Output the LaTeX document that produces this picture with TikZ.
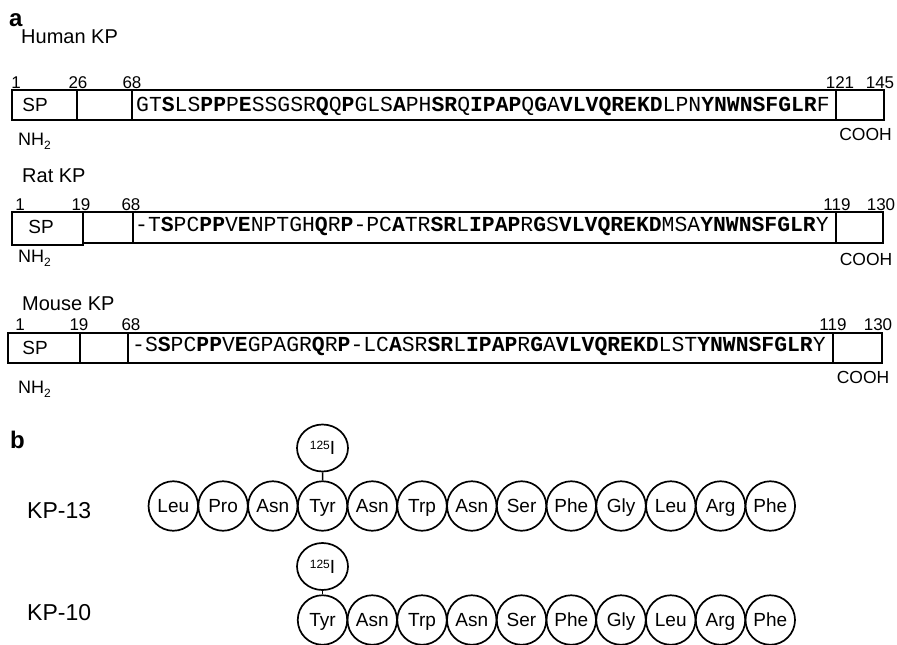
\documentclass[tikz,border=0pt]{standalone}
\usepackage{fontspec}
\setmainfont{Liberation Sans}
\newfontfamily\seqfont{Liberation Mono}
\usetikzlibrary{shapes.geometric}
\newcommand\sqb[1]{\textbf{#1}}
\newcommand\subtwo{\raisebox{-4pt}{\fontsize{12}{12}\selectfont 2}}
\tikzset{
  seg/.style={draw, line width=1.8pt, inner sep=0pt},
  lbl/.style={inner sep=0pt, anchor=base west, font=\fontsize{20}{23}\selectfont},
  num/.style={inner sep=0pt, anchor=base, font=\fontsize{17}{19}\selectfont},
  term/.style={inner sep=0pt, anchor=base, font=\fontsize{17.5}{20}\selectfont},
  termw/.style={inner sep=0pt, anchor=base west, font=\fontsize{18}{20}\selectfont},
  sptxt/.style={inner sep=0pt, anchor=base, font=\fontsize{19}{21}\selectfont},
  seqtxt/.style={inner sep=0pt, anchor=base west, font=\seqfont\fontsize{21.4}{24}\selectfont},
  panel/.style={inner sep=0pt, anchor=base west, font=\bfseries\fontsize{24}{28}\selectfont},
  kplbl/.style={inner sep=0pt, anchor=base west, font=\fontsize{23}{26}\selectfont},
  aa/.style={circle, draw, line width=1.7pt, minimum size=49.5pt, inner sep=0pt,
    text height=13.5pt, text depth=0pt, font=\fontsize{19}{21}\selectfont},
  iod/.style={ellipse, draw, line width=1.7pt, minimum width=51pt, minimum height=47pt,
    inner sep=0pt, font=\fontsize{19}{21}\selectfont},
  conn/.style={line width=1.5pt}
}
\begin{document}
\begin{tikzpicture}[x=1pt,y=-1pt]
\useasboundingbox (0,0) rectangle (897,645);
% ---------- panel a
\node[panel] (pa) at (9,27) {a};
% Human
\node[lbl] (hname) at (21,43.5) {Human KP};
\node[num] (hn1) at (16,88) {1};
\node[num] (hn26) at (78,88) {26};
\node[num] (hn68) at (132,88) {68};
\node[num] (hn121) at (840,88) {121};
\node[num] (hn145) at (880,88) {145};
\node[seg, minimum width=65pt, minimum height=30pt] (hsp) at (44.5,105) {};
\node[seg, minimum width=55pt, minimum height=30pt] (hpro) at (104.5,105) {};
\node[seg, minimum width=704pt, minimum height=30pt] (hseq) at (484,105) {};
\node[seg, minimum width=48pt, minimum height=30pt] (hc) at (860,105) {};
\node[sptxt] (hsptxt) at (35,111) {SP};
\node[seqtxt] (hseqtxt) at (136,111.7) {GT\sqb{S}LS\sqb{PP}P\sqb{E}SSGSR\sqb{Q}Q\sqb{P}GLS\sqb{A}PH\sqb{SR}Q\sqb{IPAP}Q\sqb{G}A\sqb{VLVQREKD}LPN\sqb{YNWNSFGLR}F};
\node[termw] (hnh) at (18,145) {NH\subtwo};
\node[term] (hcooh) at (865.5,140) {COOH};
% Rat
\node[lbl] (rname) at (22,182) {Rat KP};
\node[num] (rn1) at (20,210) {1};
\node[num] (rn19) at (81,210) {19};
\node[num] (rn68) at (131,210) {68};
\node[num] (rn119) at (837,210) {119};
\node[num] (rn130) at (881,210) {130};
\node[seg, minimum width=71pt, minimum height=33pt] (rsp) at (47.5,228.5) {};
\node[seg, minimum width=50pt, minimum height=31pt] (rpro) at (108,227.5) {};
\node[seg, minimum width=703pt, minimum height=31pt] (rseq) at (484.5,227.5) {};
\node[seg, minimum width=47pt, minimum height=31pt] (rc) at (859.5,227.5) {};
\node[sptxt] (rsptxt) at (41,233.5) {SP};
\node[seqtxt] (rseqtxt) at (135,231.7) {-T\sqb{S}PC\sqb{PP}V\sqb{E}NPTGH\sqb{Q}R\sqb{P}-PC\sqb{A}TR\sqb{SR}L\sqb{IPAP}R\sqb{G}S\sqb{VLVQREKD}MSA\sqb{YNWNSFGLR}Y};
\node[termw] (rnh) at (18,262) {NH\subtwo};
\node[term] (rcooh) at (866,265) {COOH};
% Mouse
\node[lbl] (mname) at (22,310) {Mouse KP};
\node[num] (mn1) at (20,330) {1};
\node[num] (mn19) at (79,330) {19};
\node[num] (mn68) at (131,330) {68};
\node[num] (mn119) at (833,330) {119};
\node[num] (mn130) at (878,330) {130};
\node[seg, minimum width=72pt, minimum height=30pt] (msp) at (44,348) {};
\node[seg, minimum width=48pt, minimum height=30pt] (mpro) at (104,348) {};
\node[seg, minimum width=705pt, minimum height=30pt] (mseq) at (480.5,348) {};
\node[seg, minimum width=49pt, minimum height=30pt] (mc) at (857.5,348) {};
\node[sptxt] (msptxt) at (35,354) {SP};
\node[seqtxt] (mseqtxt) at (132,351.7) {-S\sqb{S}PC\sqb{PP}V\sqb{E}GPAGR\sqb{Q}R\sqb{P}-LC\sqb{A}SR\sqb{SR}L\sqb{IPAP}R\sqb{G}A\sqb{VLVQREKD}LST\sqb{YNWNSFGLR}Y};
\node[termw] (mnh) at (18,393) {NH\subtwo};
\node[term] (mcooh) at (863,383) {COOH};
% ---------- panel b
\node[panel] (pb) at (10,448) {b};
\node[kplbl] (k13) at (27,518) {KP-13};
\node[kplbl] (k10) at (27,620) {KP-10};
\foreach \t [count=\i from 0] in {Leu,Pro,Asn,Tyr,Asn,Trp,Asn,Ser,Phe,Gly,Leu,Arg,Phe}
  \node[aa] (a13-\i) at (173.3+49.75*\i,506) {\t};
\node[iod] (i13) at (322.5,448) {\raisebox{5pt}{\fontsize{12}{12}\selectfont 125}I};
\draw[conn] (i13.south) -- (a13-3.north);
\foreach \t [count=\i from 0] in {Tyr,Asn,Trp,Asn,Ser,Phe,Gly,Leu,Arg,Phe}
  \node[aa] (a10-\i) at (322.5+49.75*\i,620) {\t};
\node[iod] (i10) at (322.5,566.5) {\raisebox{5pt}{\fontsize{12}{12}\selectfont 125}I};
\draw[conn] (i10.south) -- (a10-0.north);
\end{tikzpicture}
\end{document}
